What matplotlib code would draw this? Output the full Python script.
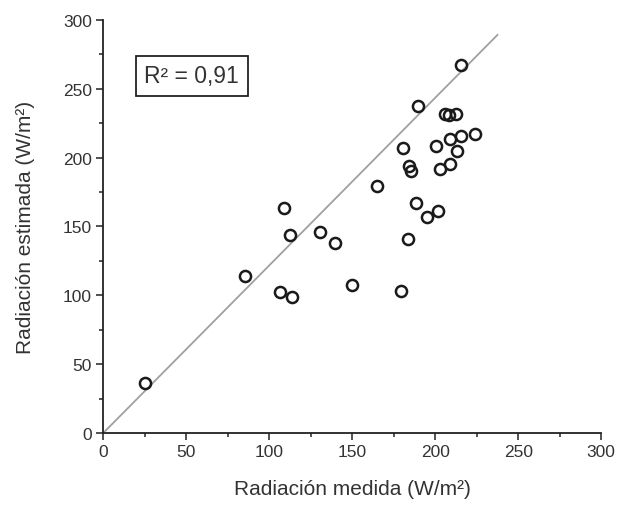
import matplotlib.pyplot as plt
from matplotlib.ticker import MultipleLocator

plt.rcParams['font.family'] = ['Liberation Sans', 'DejaVu Sans']

# Datos
medida = [25.3, 85.4, 106.3, 113.9, 108.7, 112.5, 130.8, 139.4, 149.9, 165.2,
          179.4, 183.6, 180.8, 184.0, 185.5, 188.7, 189.9, 194.9, 200.3, 201.9,
          202.9, 205.9, 208.3, 212.4, 209.2, 208.8, 213.2, 215.4, 224.0, 215.4]
estimada = [36.1, 114.0, 102.6, 98.7, 163.1, 144.0, 145.7, 137.7, 107.2, 179.5,
            103.1, 141.1, 206.6, 193.8, 190.2, 167.2, 237.4, 156.5, 208.1, 161.4,
            191.4, 231.3, 230.8, 231.8, 213.2, 195.5, 204.7, 215.6, 217.3, 267.1]

# linea de referencia
linea_x = [0, 237.5]
linea_y = [0, 289]

fig = plt.figure(figsize=(6.25, 5.06), dpi=100)
ax = fig.add_axes([0.165, 0.142, 0.797, 0.817])

ax.plot(linea_x, linea_y, color='#a0a0a0', lw=1.3, zorder=1)
ax.plot(medida, estimada, 'o', mfc='none', mec='#1a1a1a', ms=8, mew=1.8, zorder=2)

ax.set_xlim(0, 300)
ax.set_ylim(0, 300)
ax.xaxis.set_major_locator(MultipleLocator(50))
ax.yaxis.set_major_locator(MultipleLocator(50))
ax.xaxis.set_minor_locator(MultipleLocator(25))
ax.yaxis.set_minor_locator(MultipleLocator(25))
ax.tick_params(which='major', length=5, width=1.1, pad=3, labelsize=12.5,
               labelcolor='#333333', color='#222222')
ax.tick_params(which='minor', length=3, width=1.1, color='#222222')

for s in ['top', 'right']:
    ax.spines[s].set_visible(False)
for s in ['left', 'bottom']:
    ax.spines[s].set_color('#222222')
    ax.spines[s].set_linewidth(1.3)

ax.set_xlabel('Radiación medida (W/m²)', fontsize=15, color='#333333')
ax.set_ylabel('Radiación estimada (W/m²)', fontsize=15, color='#333333')
ax.xaxis.set_label_coords(0.5, -0.112)
ax.yaxis.set_label_coords(-0.137, 0.5)

ax.text(0.083, 0.864, 'R² = 0,91', transform=ax.transAxes, fontsize=16.5, color='#333333',
        va='center', ha='left',
        bbox=dict(boxstyle='square,pad=0.38', fc='white', ec='#222222', lw=1.3))

fig.savefig('out.png', dpi=100)
